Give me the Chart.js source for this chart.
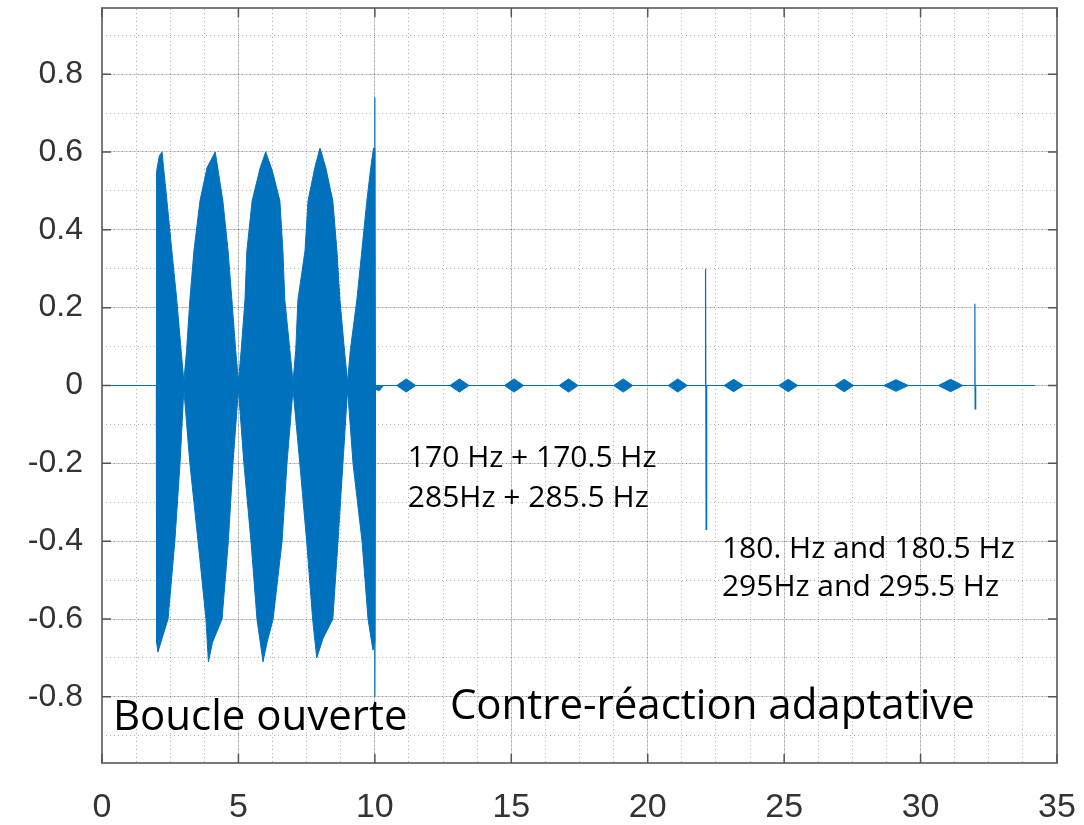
<!DOCTYPE html>
<html>
<head>
<meta charset="utf-8">
<script src="https://cdn.jsdelivr.net/npm/chart.js@4"></script>
<style>html,body{margin:0;background:#fff}</style>
</head>
<body>
<canvas id="sig" width="1084" height="825"></canvas>
<script>
// enveloppe haute du signal, temps en s
const hiT = [0, 1.99, 2.0, 2.1, 2.2, 2.38, 2.56, 2.74, 2.9, 3.0, 3.1, 3.22, 3.37, 3.59, 3.85, 4.15, 4.43, 4.62, 4.76, 4.9,
  5.0, 5.1, 5.24, 5.31, 5.5, 5.8, 6.0, 6.25, 6.52, 6.63, 6.7, 6.9, 7.0, 7.1, 7.18, 7.44, 7.55, 7.8, 7.99, 8.2, 8.46, 8.61, 8.72, 8.9,
  9.0, 9.1, 9.34, 9.5, 9.7, 9.85, 9.95, 10.0, 10.02,
  10.8, 11.15, 11.5, 12.75, 13.1, 13.45, 14.75, 15.1, 15.45, 16.75, 17.1, 17.45, 18.75, 19.1, 19.45, 20.75, 21.1, 21.45,
  22.8, 23.15, 23.5, 24.8, 25.15, 25.5, 26.85, 27.2, 27.55, 28.65, 29.1, 29.55, 30.65, 31.1, 31.55, 34.2];
const hiV = [0, 0, 0.55, 0.59, 0.60, 0.474, 0.346, 0.22, 0.09, 0.01, 0.09, 0.22, 0.346, 0.474, 0.56, 0.60, 0.474, 0.346, 0.22, 0.09,
  0.01, 0.09, 0.22, 0.346, 0.474, 0.56, 0.60, 0.55, 0.474, 0.346, 0.22, 0.08, 0.01, 0.09, 0.22, 0.346, 0.474, 0.56, 0.61, 0.56, 0.474, 0.346, 0.22, 0.08,
  0.01, 0.09, 0.22, 0.33, 0.47, 0.56, 0.61, 0.61, 0,
  0, 0.017, 0, 0, 0.017, 0, 0, 0.017, 0, 0, 0.017, 0, 0, 0.017, 0, 0, 0.017, 0,
  0, 0.016, 0, 0, 0.016, 0, 0, 0.016, 0, 0, 0.015, 0, 0, 0.016, 0, 0];

// enveloppe basse
const loT = [0, 1.99, 2.0, 2.05, 2.2, 2.42, 2.67, 2.86, 3.0, 3.22, 3.52, 3.81, 3.9, 4.05, 4.4, 4.63, 4.8,
  5.0, 5.2, 5.46, 5.68, 5.9, 6.05, 6.27, 6.6, 6.78, 7.0, 7.25, 7.5, 7.72, 7.87, 8.1, 8.46, 8.65, 8.83,
  9.0, 9.2, 9.53, 9.75, 9.93, 10.0, 10.02, 10.15, 10.3,
  10.8, 11.15, 11.5, 12.75, 13.1, 13.45, 14.75, 15.1, 15.45, 16.75, 17.1, 17.45, 18.75, 19.1, 19.45, 20.75, 21.1, 21.45,
  22.8, 23.15, 23.5, 24.8, 25.15, 25.5, 26.85, 27.2, 27.55, 28.65, 29.1, 29.55, 30.65, 31.1, 31.55, 34.2];
const loV = [0, 0, -0.66, -0.685, -0.65, -0.6, -0.4, -0.2, -0.01, -0.2, -0.4, -0.6, -0.71, -0.66, -0.6, -0.4, -0.2,
  -0.01, -0.2, -0.4, -0.6, -0.71, -0.66, -0.6, -0.4, -0.2, -0.01, -0.2, -0.4, -0.6, -0.70, -0.65, -0.6, -0.4, -0.2,
  -0.01, -0.2, -0.4, -0.6, -0.68, -0.66, -0.01, -0.013, 0,
  0, -0.017, 0, 0, -0.017, 0, 0, -0.017, 0, 0, -0.017, 0, 0, -0.017, 0, 0, -0.017, 0,
  0, -0.016, 0, 0, -0.016, 0, 0, -0.016, 0, 0, -0.015, 0, 0, -0.016, 0, 0];

// pics (transitoires)
const traceT = [9.9, 9.98, 10.0, 10.0, 10.02, 10.15, 10.3, 22.1, 22.12, 22.14, 22.16, 31.97, 31.99, 32.0, 32.02, 34.2];
const traceY = [0, 0.61, 0.74, -0.80, 0, -0.013, 0, 0, 0.30, -0.37, 0, 0, 0.21, -0.06, 0, 0];

const xTicks = [0, 5, 10, 15, 20, 25, 30, 35];
const yTicks = [-0.8, -0.6, -0.4, -0.2, 0, 0.2, 0.4, 0.6, 0.8];

const notes = [
  {text: 'Boucle ouverte', x: 0.40, y: -0.885, size: 42},
  {text: 'Contre-réaction adaptative', x: 12.75, y: -0.856, size: 42},
  {text: '170 Hz + 170.5 Hz', x: 11.21, y: -0.21, size: 30},
  {text: '285Hz + 285.5 Hz', x: 11.21, y: -0.313, size: 30},
  {text: '180. Hz and 180.5 Hz', x: 22.72, y: -0.444, size: 30},
  {text: '295Hz and 295.5 Hz', x: 22.72, y: -0.541, size: 30}
];

const blue = '#0072BD';
const pts = (xs, ys) => xs.map((x, i) => ({x: x, y: ys[i]}));

// petits traits vers l'intérieur + textes
const extras = {
  id: 'extras',
  afterDraw(chart) {
    const {ctx, chartArea: a, scales} = chart;
    ctx.save();
    ctx.strokeStyle = '#555';
    ctx.lineWidth = 1.5;
    ctx.beginPath();
    xTicks.forEach(v => {
      const px = scales.x.getPixelForValue(v);
      ctx.moveTo(px, a.bottom); ctx.lineTo(px, a.bottom - 9);
      ctx.moveTo(px, a.top); ctx.lineTo(px, a.top + 9);
    });
    yTicks.forEach(v => {
      const py = scales.y.getPixelForValue(v);
      ctx.moveTo(a.left, py); ctx.lineTo(a.left + 9, py);
      ctx.moveTo(a.right, py); ctx.lineTo(a.right - 9, py);
    });
    ctx.stroke();
    ctx.fillStyle = '#000';
    ctx.textAlign = 'left';
    ctx.textBaseline = 'alphabetic';
    notes.forEach(n => {
      ctx.font = n.size + 'px "Open Sans"';
      ctx.fillText(n.text, scales.x.getPixelForValue(n.x), scales.y.getPixelForValue(n.y));
    });
    ctx.restore();
  }
};

new Chart(document.getElementById('sig'), {
  type: 'line',
  data: {
    datasets: [
      {data: pts(hiT, hiV), borderColor: blue, borderWidth: 1, pointRadius: 0, fill: false},
      {data: pts(loT, loV), borderColor: blue, borderWidth: 1, pointRadius: 0, fill: '-1', backgroundColor: blue},
      {data: pts(traceT, traceY), borderColor: blue, borderWidth: 1.2, pointRadius: 0, fill: false}
    ]
  },
  options: {
    responsive: false,
    animation: false,
    devicePixelRatio: 1,
    layout: {padding: {top: 8, right: 27, left: 0, bottom: 0}},
    plugins: {legend: {display: false}, tooltip: {enabled: false}},
    elements: {line: {tension: 0}},
    scales: {
      x: {
        type: 'linear', min: 0, max: 35,
        ticks: {stepSize: 5, padding: 24, color: '#333', font: {family: 'Liberation Sans', size: 34}},
        grid: {color: 'rgba(0,0,0,0.16)', drawTicks: false},
        border: {color: '#7a7a7a', width: 2},
        afterFit: s => { s.height = 62; s.paddingLeft = 0; s.paddingRight = 0; }
      },
      xMinor: {
        type: 'linear', min: 0, max: 35, position: 'top',
        ticks: {display: false, stepSize: 1.25},
        grid: {color: 'rgba(0,0,0,0.3)', drawTicks: false},
        border: {color: '#7a7a7a', width: 2, dash: [1, 3]},
        afterFit: s => { s.height = 0; s.paddingLeft = 0; s.paddingRight = 0; }
      },
      y: {
        min: -0.97, max: 0.97,
        ticks: {stepSize: 0.2, includeBounds: false, padding: 19, color: '#333',
          font: {family: 'Liberation Sans', size: 32},
          callback: v => String(Math.round(v * 10) / 10)},
        grid: {color: 'rgba(0,0,0,0.16)', drawTicks: false},
        border: {color: '#7a7a7a', width: 2},
        afterFit: s => { s.width = 102; s.paddingTop = 0; s.paddingBottom = 0; }
      },
      yMinor: {
        min: -0.97, max: 0.97, position: 'right',
        ticks: {display: false, stepSize: 0.1, includeBounds: false},
        grid: {color: 'rgba(0,0,0,0.3)', drawTicks: false},
        border: {color: '#7a7a7a', width: 2, dash: [1, 3]},
        afterFit: s => { s.width = 0; s.paddingTop = 0; s.paddingBottom = 0; }
      }
    }
  },
  plugins: [extras]
});
</script>
</body>
</html>
